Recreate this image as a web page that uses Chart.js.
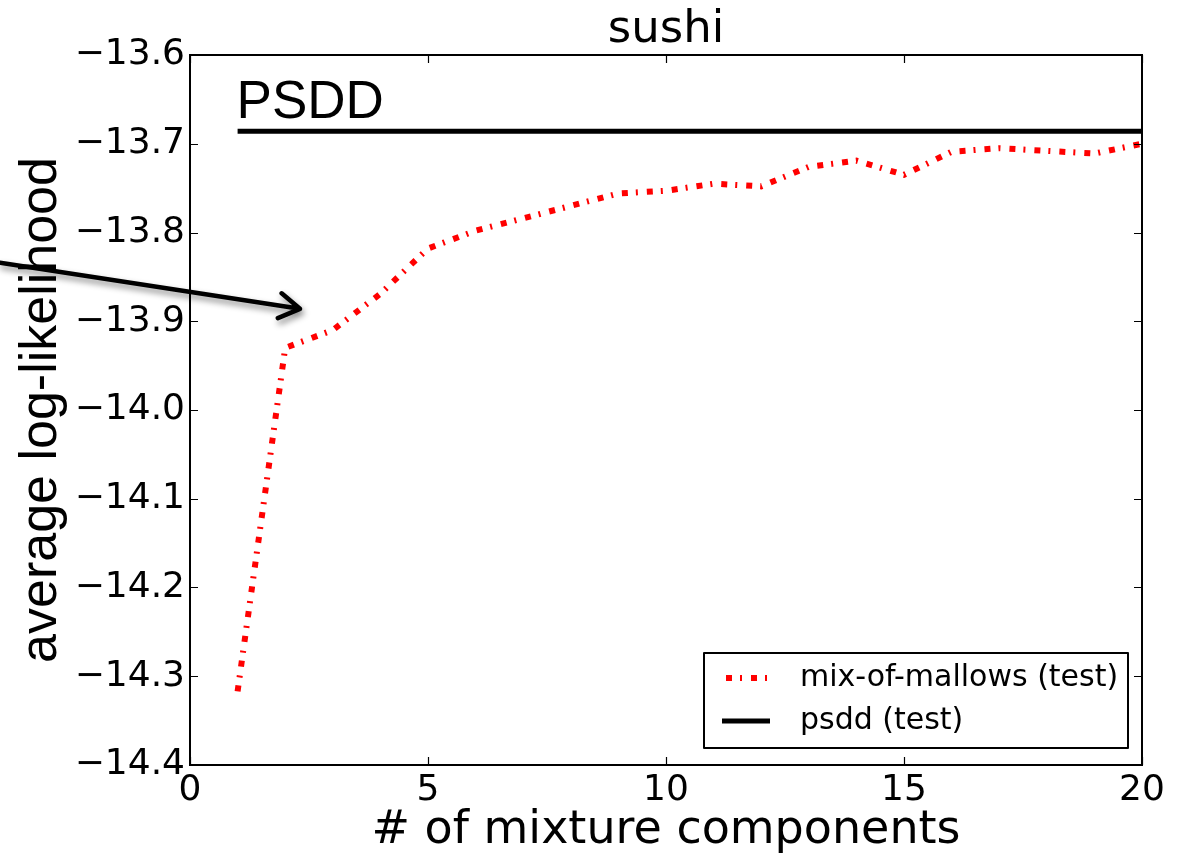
<!DOCTYPE html>
<html>
<head>
<meta charset="utf-8">
<script src="https://cdn.jsdelivr.net/npm/chart.js@4/dist/chart.umd.min.js"></script>
<style>
  html, body { margin: 0; padding: 0; background: #fff; }
  #wrap { width: 1180px; height: 854px; }
</style>
</head>
<body>
<div id="wrap"><canvas id="chart" width="1180" height="854"></canvas></div>
<script>
const components = [1, 2, 3, 4, 5, 6, 7, 8, 9, 10, 11, 12, 13, 14, 15, 16, 17, 18, 19, 20];
const mallowsTest = [-14.317, -13.930, -13.910, -13.869, -13.818, -13.798, -13.784, -13.770, -13.756, -13.753,
  -13.745, -13.748, -13.726, -13.719, -13.735, -13.709, -13.705, -13.708, -13.711, -13.700];
const psddTest = components.map(() => -13.686);
const xTicks = [0, 5, 10, 15, 20];
const yTicks = [-14.4, -14.3, -14.2, -14.1, -14.0, -13.9, -13.8, -13.7, -13.6];

const FONT = "'DejaVu Sans', sans-serif";
const SANS = "'Liberation Sans', Arial, sans-serif";
const redDash = [6, 8, 2, 9];

const fmt = (v) => (v < 0 ? '\u2212' : '') + Math.abs(v).toFixed(1);

// title, frame, inward ticks, legend, PSDD label and arrow
const decorations = {
  id: 'decorations',
  afterDraw(chart) {
    const { ctx, chartArea: a, scales } = chart;
    const xs = scales.x;
    const ys = scales.y;
    ctx.save();

    // title centred over the axes
    ctx.fillStyle = '#000';
    ctx.font = '45px ' + FONT;
    ctx.textAlign = 'center';
    ctx.textBaseline = 'middle';
    ctx.fillText('sushi', (a.left + a.right) / 2, 30);

    // inward tick marks
    ctx.strokeStyle = '#000';
    ctx.lineWidth = 1.2;
    ctx.beginPath();
    yTicks.forEach((v) => {
      const py = Math.round(ys.getPixelForValue(v)) + 0.5;
      ctx.moveTo(a.left, py); ctx.lineTo(a.left + 8, py);
      ctx.moveTo(a.right, py); ctx.lineTo(a.right - 8, py);
    });
    xTicks.forEach((v) => {
      const px = Math.round(xs.getPixelForValue(v)) + 0.5;
      ctx.moveTo(px, a.bottom); ctx.lineTo(px, a.bottom - 8);
      ctx.moveTo(px, a.top); ctx.lineTo(px, a.top + 8);
    });
    ctx.stroke();

    // frame
    ctx.lineWidth = 2;
    ctx.strokeRect(a.left, a.top, a.right - a.left, a.bottom - a.top);

    // PSDD label above the psdd line
    ctx.font = '53px ' + SANS;
    ctx.textBaseline = 'alphabetic';
    ctx.textAlign = 'left';
    ctx.fillText('PSDD', xs.getPixelForValue(1) - 1, ys.getPixelForValue(psddTest[0]) - 13);

    // arrow with soft shadow
    const tx = xs.getPixelForValue(-3.99);
    const ty = ys.getPixelForValue(-13.834);
    const hx = xs.getPixelForValue(2.31);
    const hy = ys.getPixelForValue(-13.886);
    ctx.shadowColor = 'rgba(0,0,0,0.45)';
    ctx.shadowBlur = 6;
    ctx.shadowOffsetX = 2;
    ctx.shadowOffsetY = 4;
    ctx.lineWidth = 4.5;
    ctx.lineCap = 'round';
    ctx.lineJoin = 'round';
    ctx.beginPath();
    ctx.moveTo(tx, ty);
    ctx.lineTo(hx, hy);
    const ang = Math.atan2(hy - ty, hx - tx);
    const hl = 24;
    ctx.moveTo(hx - hl * Math.cos(ang - 0.55), hy - hl * Math.sin(ang - 0.55));
    ctx.lineTo(hx, hy);
    ctx.lineTo(hx - hl * Math.cos(ang + 0.55), hy - hl * Math.sin(ang + 0.55));
    ctx.stroke();
    ctx.shadowColor = 'transparent';
    ctx.lineCap = 'butt';

    // legend
    const bx = a.right - 438;
    const by = a.bottom - 112;
    const bw = 424;
    const bh = 95;
    ctx.fillStyle = '#fff';
    ctx.fillRect(bx, by, bw, bh);
    ctx.lineWidth = 2;
    ctx.strokeRect(bx, by, bw, bh);

    const row1 = by + 25;
    const row2 = by + 68;
    ctx.strokeStyle = 'red';
    ctx.lineWidth = 6;
    ctx.setLineDash(redDash);
    ctx.beginPath();
    ctx.moveTo(bx + 22, row1); ctx.lineTo(bx + 68, row1);
    ctx.stroke();
    ctx.setLineDash([]);
    ctx.strokeStyle = '#000';
    ctx.lineWidth = 5;
    ctx.beginPath();
    ctx.moveTo(bx + 18, row2); ctx.lineTo(bx + 66, row2);
    ctx.stroke();

    ctx.fillStyle = '#000';
    ctx.font = '30px ' + FONT;
    ctx.textBaseline = 'middle';
    ctx.fillText('mix-of-mallows (test)', bx + 96, row1);
    ctx.fillText('psdd (test)', bx + 96, row2);
    ctx.restore();
  },
};

new Chart(document.querySelector('#chart'), {
  type: 'line',
  data: {
    datasets: [
      {
        label: 'mix-of-mallows (test)',
        data: components.map((c, i) => ({ x: c, y: mallowsTest[i] })),
        borderColor: 'red',
        borderWidth: 6,
        borderDash: redDash,
        pointRadius: 0,
        tension: 0,
      },
      {
        label: 'psdd (test)',
        data: components.map((c, i) => ({ x: c, y: psddTest[i] })),
        borderColor: '#000',
        borderWidth: 5,
        pointRadius: 0,
        tension: 0,
      },
    ],
  },
  options: {
    responsive: false,
    animation: false,
    layout: { padding: { top: 55, right: 38, left: 0, bottom: 0 } },
    plugins: {
      legend: { display: false },
      tooltip: { enabled: false },
      title: { display: false },
    },
    scales: {
      x: {
        type: 'linear',
        min: 0,
        max: 20,
        afterFit: (s) => { s.height = 89; },
        afterBuildTicks: (s) => { s.ticks = xTicks.map((v) => ({ value: v })); },
        grid: { display: false, drawTicks: false },
        border: { display: false },
        ticks: { color: '#000', padding: 4, font: { family: FONT, size: 36 } },
        title: {
          display: true,
          text: '# of mixture components',
          color: '#000',
          padding: { top: 0, bottom: 0 },
          font: { family: FONT, size: 46, lineHeight: 1.0 },
        },
      },
      y: {
        type: 'linear',
        min: -14.4,
        max: -13.6,
        afterFit: (s) => { s.width = 190; },
        afterBuildTicks: (s) => { s.ticks = yTicks.map((v) => ({ value: v })); },
        grid: { display: false, drawTicks: false },
        border: { display: false },
        ticks: { color: '#000', padding: 5, font: { family: FONT, size: 36 }, callback: (v) => fmt(v) },
        title: {
          display: true,
          text: 'average log-likelihood',
          color: '#000',
          padding: { top: 10, bottom: 0 },
          font: { family: SANS, size: 52, lineHeight: 1.2 },
        },
      },
    },
  },
  plugins: [decorations],
});
</script>
</body>
</html>
